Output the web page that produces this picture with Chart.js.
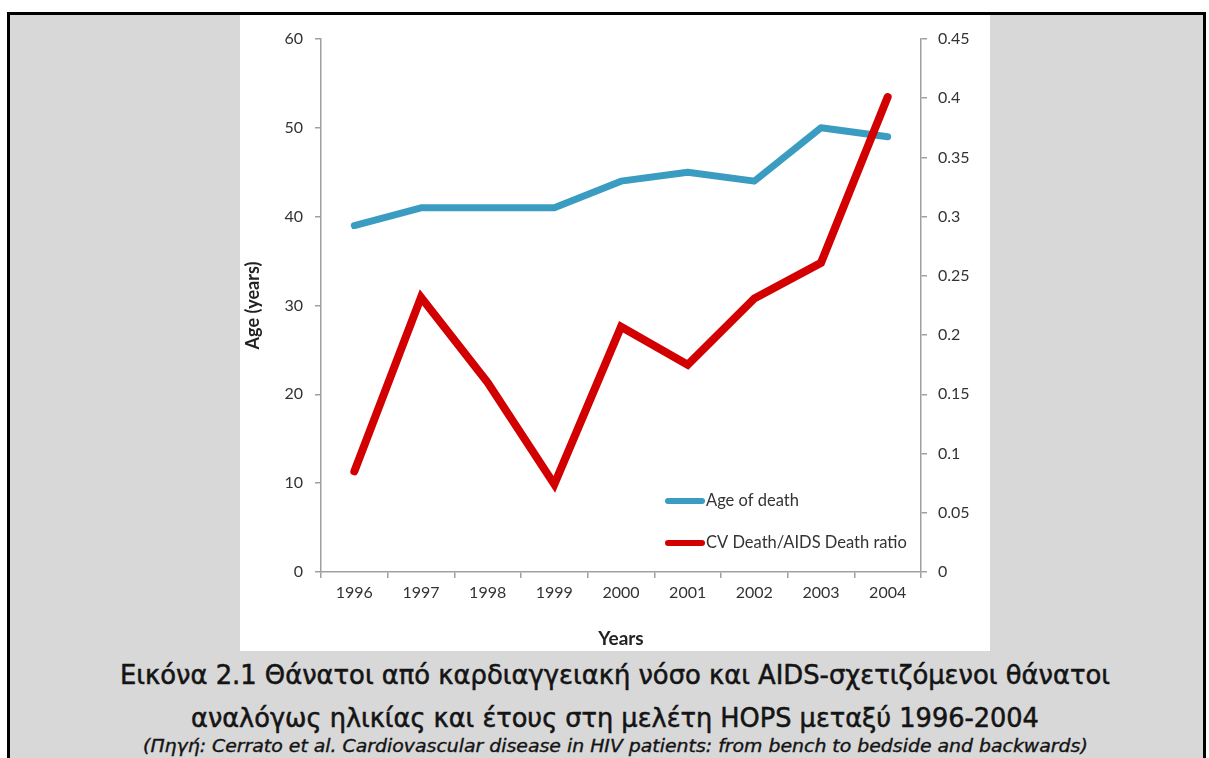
<!DOCTYPE html>
<html lang="el">
<head>
<meta charset="utf-8">
<title>HOPS 1996-2004</title>
<script src="https://cdn.jsdelivr.net/npm/chart.js@4.4.1/dist/chart.umd.min.js"></script>
<style>
  html, body { margin: 0; padding: 0; background: #ffffff; }
  body { width: 1209px; height: 758px; position: relative; overflow: hidden; }
  #frame {
    position: absolute; left: 7px; top: 12px; width: 1199px; height: 770px;
    box-sizing: border-box; border: 3px solid #000; background: #d8d8d8;
  }
  #chartBox {
    position: absolute; left: 240px; top: 15px; width: 750px; height: 636px;
    background: #ffffff;
  }
  .cap {
    position: absolute; white-space: nowrap; color: #141414;
    font-family: "DejaVu Sans Condensed", "Liberation Sans Narrow", "DejaVu Sans", sans-serif;
    transform-origin: 50% 50%;
  }
  .cap.main { font-size: 27px; line-height: 27px; -webkit-text-stroke: 0.5px #141414; }
  .cap.src { font-size: 18px; line-height: 18px; font-style: italic; -webkit-text-stroke: 0.35px #141414; }
</style>
</head>
<body>
<div id="frame"></div>
<div id="chartBox"><canvas id="chart" width="750" height="636"></canvas></div>

<div class="cap main" data-w="990" style="top:661px">Εικόνα 2.1 Θάνατοι από καρδιαγγειακή νόσο και AIDS-σχετιζόμενοι θάνατοι</div>
<div class="cap main" data-w="848" style="top:704px">αναλόγως ηλικίας και έτους στη μελέτη HOPS μεταξύ 1996-2004</div>
<div class="cap src" data-w="945" style="top:737px">(Πηγή: Cerrato et al. Cardiovascular disease in HIV patients: from bench to bedside and backwards)</div>

<script>
// Categories and series
const years = ['1996', '1997', '1998', '1999', '2000', '2001', '2002', '2003', '2004'];
const ageOfDeath = [39, 41, 41, 41, 44, 45, 44, 50, 49];
const cvAidsRatio = [0.085, 0.232, 0.160, 0.074, 0.207, 0.175, 0.231, 0.261, 0.401];

// Axis tick labels
const ageTickLabels = ['0', '10', '20', '30', '40', '50', '60'];
const ratioTickLabels = ['0', '0.05', '0.1', '0.15', '0.2', '0.25', '0.3', '0.35', '0.4', '0.45'];

const seriesNames = ['Age of death', 'CV Death/AIDS Death ratio'];
const seriesColors = ['#3a9cc0', '#d20000'];

const tickColor = '#333333';
const titleColor = '#222222';
const axisColor = '#a0a0a0';
const baseFont = 'Lato, "Open Sans", sans-serif';

// Legend drawn inside the plot, lower right
const insideLegend = {
  id: 'insideLegend',
  afterDatasetsDraw(chart) {
    const ctx = chart.ctx;
    const a = chart.chartArea;
    const x0 = a.left + 344;
    const rows = [a.top + 462, a.top + 504];
    ctx.save();
    chart.data.datasets.forEach((ds, i) => {
      const y = rows[i];
      ctx.strokeStyle = ds.borderColor;
      ctx.lineWidth = 6;
      ctx.lineCap = 'round';
      ctx.beginPath();
      ctx.moveTo(x0 + 3, y);
      ctx.lineTo(x0 + 37, y);
      ctx.stroke();
      ctx.fillStyle = tickColor;
      ctx.font = '16.5px ' + baseFont;
      ctx.textBaseline = 'middle';
      ctx.textAlign = 'left';
      ctx.fillText(ds.label, x0 + 41, y);
    });
    ctx.restore();
  }
};

new Chart(document.getElementById('chart'), {
  type: 'line',
  data: {
    labels: years,
    datasets: [
      {
        label: seriesNames[0],
        data: ageOfDeath,
        yAxisID: 'y',
        borderColor: seriesColors[0],
        backgroundColor: seriesColors[0],
        borderWidth: 7,
        pointRadius: 0,
        tension: 0,
        borderCapStyle: 'round',
        borderJoinStyle: 'round',
        order: 1
      },
      {
        label: seriesNames[1],
        data: cvAidsRatio,
        yAxisID: 'y1',
        borderColor: seriesColors[1],
        backgroundColor: seriesColors[1],
        borderWidth: 8,
        pointRadius: 0,
        tension: 0,
        borderCapStyle: 'round',
        borderJoinStyle: 'miter',
        order: 0
      }
    ]
  },
  options: {
    responsive: false,
    animation: false,
    events: [],
    layout: { padding: { top: 24, left: 0, right: 0, bottom: 0 } },
    plugins: { legend: { display: false }, tooltip: { enabled: false } },
    scales: {
      x: {
        type: 'category',
        offset: true,
        grid: { offset: true, drawOnChartArea: false, tickLength: 6, color: axisColor, lineWidth: 1.5 },
        border: { color: axisColor, width: 1.5 },
        ticks: { color: tickColor, font: { family: baseFont, size: 16 }, padding: 5, maxRotation: 0, autoSkip: false },
        title: { display: true, text: 'Years', color: titleColor, font: { family: baseFont, size: 19, weight: 'bold' }, padding: { top: 0, bottom: 1 } },
        afterFit(s) { s.height = 79; }
      },
      y: {
        position: 'left',
        min: 0, max: 60,
        grid: { drawOnChartArea: false, tickLength: 6, color: axisColor, lineWidth: 1.5 },
        border: { color: axisColor, width: 1.5 },
        ticks: { stepSize: 10, color: tickColor, font: { family: baseFont, size: 16 }, padding: 12,
                 callback: (v, i) => ageTickLabels[i] },
        title: { display: true, text: 'Age (years)', color: titleColor, font: { family: baseFont, size: 18, weight: 'bold' }, padding: { top: 2, bottom: 0 } },
        afterFit(s) { s.width = 81; }
      },
      y1: {
        position: 'right',
        min: 0, max: 0.45,
        grid: { drawOnChartArea: false, tickLength: 6, color: axisColor, lineWidth: 1.5 },
        border: { color: axisColor, width: 1.5 },
        ticks: { stepSize: 0.05, color: tickColor, font: { family: baseFont, size: 16 }, padding: 11,
                 callback: (v, i) => ratioTickLabels[i] },
        afterFit(s) { s.width = 69; }
      }
    }
  },
  plugins: [insideLegend]
});

// Fit each caption line to its width, centred under the figure
document.querySelectorAll('.cap').forEach(el => {
  const target = parseFloat(el.dataset.w);
  const w = el.offsetWidth;
  el.style.left = (615 - w / 2) + 'px';
  el.style.transform = 'scaleX(' + (target / w) + ')';
});
</script>
</body>
</html>
